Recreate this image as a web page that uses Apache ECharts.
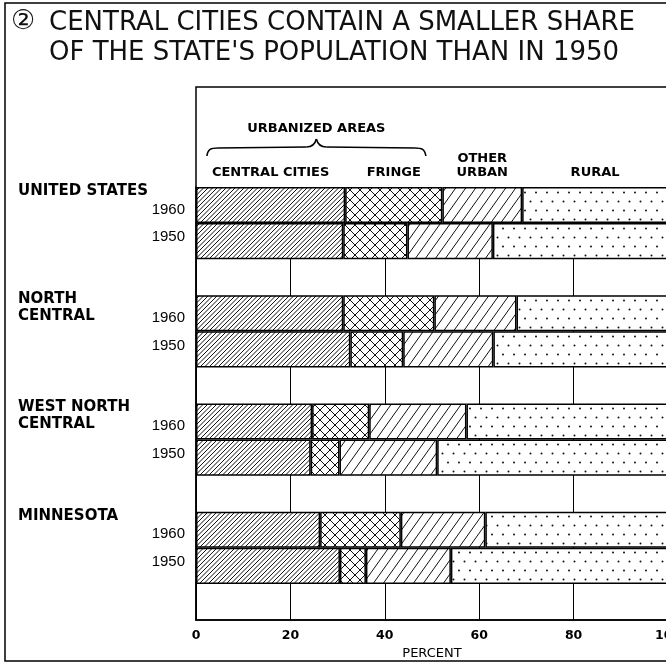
<!DOCTYPE html>
<html><head><meta charset="utf-8">
<script src="https://cdn.jsdelivr.net/npm/echarts@6/dist/echarts.min.js"></script>
<style>html,body{margin:0;padding:0;background:#fff}#c{width:666px;height:664px}</style>
</head><body><div id="c"></div>
<script>
// ---- data ----
const regions = ['UNITED STATES', 'NORTH\nCENTRAL', 'WEST NORTH\nCENTRAL', 'MINNESOTA'];
const years = ['1960', '1950'];
// order: US 1960, US 1950, NC 1960, NC 1950, WNC 1960, WNC 1950, MN 1960, MN 1950
const centralCities = [31.6, 31.2, 31.2, 32.7, 24.6, 24.3, 26.3, 30.5];
const fringe        = [20.6, 13.6, 19.3, 11.2, 12.1,  6.1, 17.1,  5.5];
const otherUrban    = [16.9, 18.1, 17.4, 19.1, 20.6, 20.7, 17.9, 18.0];
const rural         = [30.9, 37.1, 32.1, 37.0, 42.7, 48.9, 38.7, 46.0];
const seriesNames = ['CENTRAL CITIES', 'FRINGE', 'OTHER\nURBAN', 'RURAL'];
const groupLabel = 'URBANIZED AREAS';
const xTicks = [0, 20, 40, 60, 80, 100];
const titleLine1 = 'CENTRAL CITIES CONTAIN A SMALLER SHARE';
const titleLine2 = "OF THE STATE'S POPULATION THAN IN 1950";

// ---- build rows: each region -> 1960, 1950, spacer ----
const rows = [];
const rowOf = []; // value index -> row index
regions.forEach(() => {
  years.forEach(y => { rowOf.push(rows.length); rows.push(y); });
  rows.push('');
});
function toRows(arr) {
  const out = rows.map(() => '-');
  arr.forEach((v, i) => { out[rowOf[i]] = v; });
  return out;
}

// ---- patterns ----
function tile(w, h, draw) {
  const c = document.createElement('canvas');
  c.width = w; c.height = h;
  const g = c.getContext('2d');
  g.fillStyle = '#fff'; g.fillRect(0, 0, w, h);
  g.strokeStyle = '#111'; g.fillStyle = '#111';
  draw(g, w, h);
  return c;
}
function diagLines(g, w, h, n, lw, mirror) {
  g.lineWidth = lw;
  g.beginPath();
  for (let k = -n; k <= 2 * n; k++) {
    const dx = k * w / n;
    if (!mirror) { g.moveTo(dx - w, h); g.lineTo(dx, 0); }
    else { g.moveTo(dx - w, 0); g.lineTo(dx, h); }
  }
  g.stroke();
}
const patCC = tile(9, 9, (g, w, h) => diagLines(g, w, h, 2, 1, false));
const patFringe = tile(10, 10, (g, w, h) => { diagLines(g, w, h, 1, 1, false); diagLines(g, w, h, 1, 1, true); });
const patOU = tile(10, 14, (g, w, h) => diagLines(g, w, h, 1, 1, false));
const patRural = tile(11, 18, (g, w, h) => {
  g.beginPath(); g.arc(2.5, 3.5, 1.0, 0, Math.PI * 2); g.fill();
  g.beginPath(); g.arc(8, 12.5, 1.0, 0, Math.PI * 2); g.fill();
});
const pats = [patCC, patFringe, patOU, patRural];
const seriesValues = [centralCities, fringe, otherUrban, rural];

const chart = echarts.init(document.getElementById('c'), null, { renderer: 'canvas' });
const BOLD = 'DejaVu Sans';
const titleStyle = { fontFamily: 'DejaVu Sans', fontSize: 26, fontWeight: 'normal', color: '#111' };
chart.setOption({
  animation: false,
  backgroundColor: '#fff',
  title: [
    { text: '②', left: 6, top: 3, textStyle: Object.assign({}, titleStyle, { fontSize: 27 }) },
    { text: titleLine1, left: 44, top: 5, textStyle: titleStyle },
    { text: titleLine2, left: 44, top: 35, textStyle: titleStyle }
  ],
  grid: { left: 196, right: -2, top: 187, bottom: 44, containLabel: false, outerBoundsMode: 'none' },
  xAxis: {
    type: 'value', min: 0, max: 100, interval: 20,
    axisLine: { show: true, lineStyle: { color: '#000', width: 1.5 } },
    axisTick: { show: false },
    splitLine: { show: true, lineStyle: { color: '#000', width: 1 } },
    axisLabel: {
      margin: 9, color: '#000', fontFamily: BOLD, fontWeight: 'bold', fontSize: 12.5,
      formatter: v => xTicks.indexOf(v) >= 0 ? String(v) : ''
    },
    name: 'PERCENT', nameLocation: 'middle', nameGap: 26,
    nameTextStyle: { color: '#000', fontFamily: 'DejaVu Sans', fontSize: 13 }
  },
  yAxis: {
    type: 'category', data: rows, inverse: true,
    axisLine: { show: true, lineStyle: { color: '#000', width: 1.5 } },
    axisTick: { show: false },
    splitLine: { show: false },
    axisLabel: {
      margin: 11, color: '#000', fontFamily: 'Liberation Sans', fontSize: 15,
      formatter: v => v === '1960' ? '{a|1960}' : (v === '1950' ? '{b|1950}' : ''),
      rich: {
        a: { padding: [9, 0, 0, 0], fontFamily: 'Liberation Sans', fontSize: 15, color: '#000' },
        b: { padding: [0, 0, 8, 0], fontFamily: 'Liberation Sans', fontSize: 15, color: '#000' }
      }
    }
  },
  series: seriesValues.map((vals, i) => ({
    type: 'bar', name: seriesNames[i], stack: 'all',
    barCategoryGap: 0, barWidth: '100%',
    data: toRows(vals),
    itemStyle: { color: { image: pats[i], repeat: 'repeat' }, borderColor: '#000', borderWidth: 1.5 },
    emphasis: { disabled: true },
    silent: true
  }))
});

// ---- header labels, region labels, frames ----
const g = [];
g.push({ type: 'rect', shape: { x: 5, y: 3, width: 700, height: 658 }, style: { fill: 'none', stroke: '#000', lineWidth: 1.5 }, silent: true });
const x0 = chart.convertToPixel({ xAxisIndex: 0 }, 0);
g.push({ type: 'rect', shape: { x: x0, y: 87, width: 520, height: 533 }, style: { fill: 'none', stroke: '#000', lineWidth: 1.5 }, silent: true });

// segment centres of the first bar (US 1960)
let cum = 0;
const centers = seriesValues.map(vals => {
  const a = cum; cum += vals[0];
  return chart.convertToPixel({ xAxisIndex: 0 }, (a + cum) / 2);
});
const lblStyle = { fontFamily: BOLD, fontWeight: 'bold', fontSize: 13, fill: '#000' };
seriesNames.forEach((n, i) => {
  const two = n.indexOf('\n') >= 0;
  g.push({ type: 'text', x: centers[i], y: two ? 152 : 166,
    style: Object.assign({ text: n, align: 'center', verticalAlign: 'top', lineHeight: 14 }, lblStyle), silent: true });
});
// urbanized areas brace
const bL = chart.convertToPixel({ xAxisIndex: 0 }, 2.3);
const bR = chart.convertToPixel({ xAxisIndex: 0 }, centralCities[0] + fringe[0] - 3.5);
const bM = (bL + bR) / 2;
g.push({ type: 'text', x: bM, y: 129, style: Object.assign({ text: groupLabel, align: 'center', verticalAlign: 'middle' }, lblStyle), silent: true });
const braceStyle = { fill: 'none', stroke: '#000', lineWidth: 1.6 };
g.push({ type: 'bezierCurve', shape: { x1: bL, y1: 156, cpx1: bL + 1, cpy1: 149, cpx2: bL + 4, cpy2: 148, x2: bL + 11, y2: 148 }, style: braceStyle, silent: true });
g.push({ type: 'line', shape: { x1: bL + 11, y1: 148, x2: bM - 10, y2: 147 }, style: braceStyle, silent: true });
g.push({ type: 'bezierCurve', shape: { x1: bM - 10, y1: 147, cpx1: bM - 4, cpy1: 147, cpx2: bM - 1, cpy2: 143, x2: bM, y2: 139 }, style: braceStyle, silent: true });
g.push({ type: 'bezierCurve', shape: { x1: bM, y1: 139, cpx1: bM + 1, cpy1: 143, cpx2: bM + 4, cpy2: 147, x2: bM + 10, y2: 147 }, style: braceStyle, silent: true });
g.push({ type: 'line', shape: { x1: bM + 10, y1: 147, x2: bR - 11, y2: 148 }, style: braceStyle, silent: true });
g.push({ type: 'bezierCurve', shape: { x1: bR - 11, y1: 148, cpx1: bR - 4, cpy1: 148, cpx2: bR - 1, cpy2: 149, x2: bR, y2: 156 }, style: braceStyle, silent: true });

// region labels
regions.forEach((r, i) => {
  const yc = chart.convertToPixel({ yAxisIndex: 0 }, rowOf[i * 2]);
  g.push({ type: 'text', x: 18, y: yc - 22.5,
    style: { text: r, align: 'left', verticalAlign: 'top', lineHeight: 17, fontFamily: BOLD, fontWeight: 'bold', fontSize: 15, fill: '#000' }, silent: true });
});
chart.setOption({ graphic: g });
</script>
</body></html>
